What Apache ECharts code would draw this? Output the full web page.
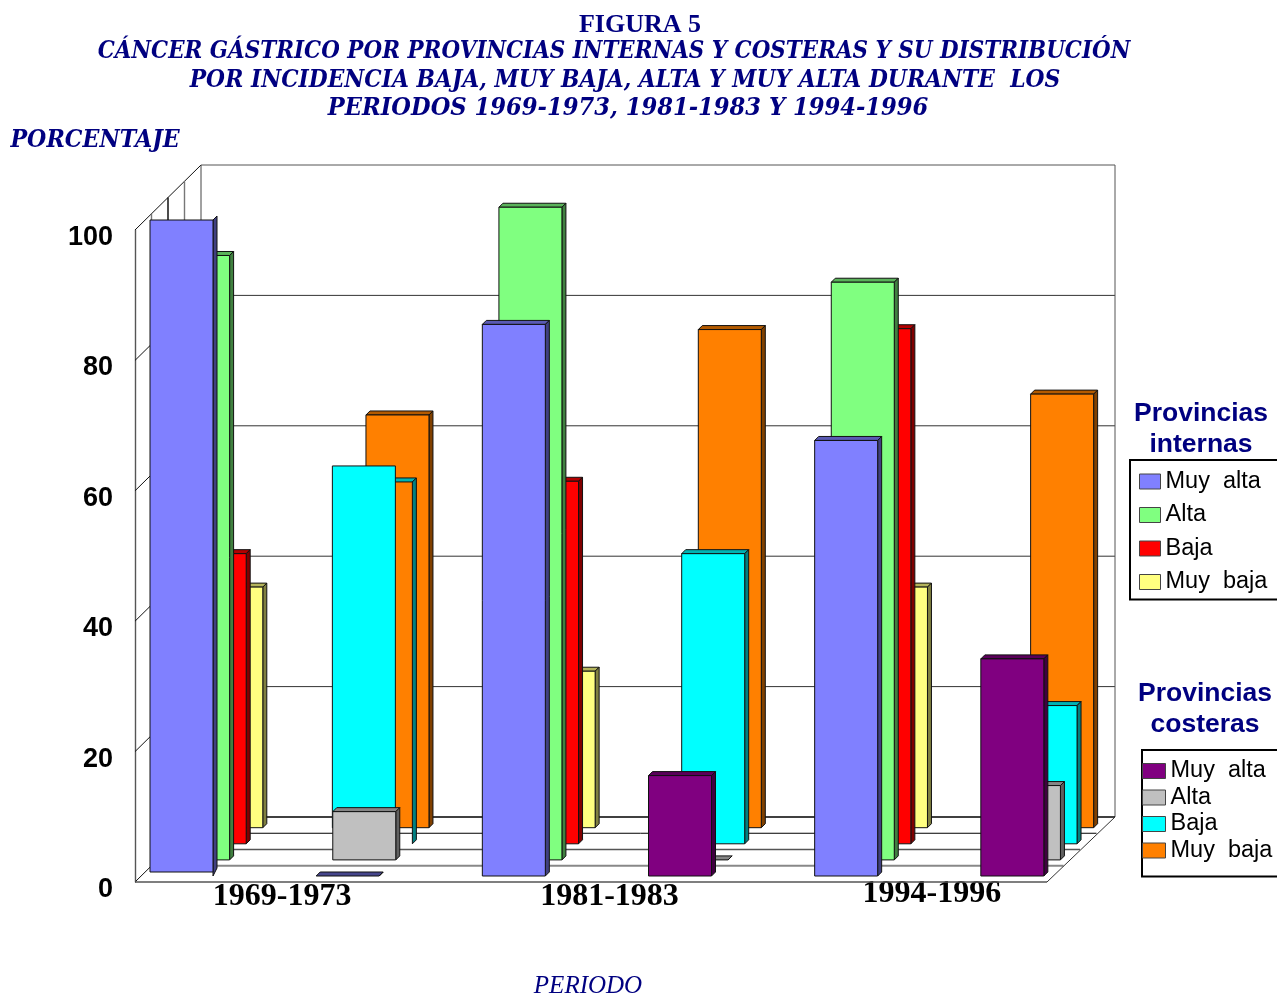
<!DOCTYPE html>
<html><head><meta charset="utf-8">
<style>html,body{margin:0;padding:0;background:#fff}#c{width:1277px;height:994px}</style>
<script src="https://cdn.jsdelivr.net/npm/echarts@6/dist/echarts.min.js"></script>
</head><body><div id="c"></div>
<script>
const periods = ['1969-1973','1981-1983','1994-1996'];
const yTicks = [0,20,40,60,80,100];
const levels = ['Muy  alta','Alta','Baja','Muy  baja'];
const internasMuyAlta = [100, 84.6, 66.8];
const internasAlta = [92.7, 100.1, 88.6];
const internasBaja = [44.5, 55.6, 79];
const internasMuyBaja = [36.9, 24, 36.9];
const costerasMuyAlta = [0, 15.4, 33.3];
const costerasAlta = [7.4, 0, 11.4];
const costerasBaja = [55.5, 44.5, 21.2];
const costerasMuyBaja = [63.3, 76.4, 66.5];

const NAVY='#000080';
const INT='Provincias internas|', COS='Provincias costeras|';
// [name, values, colour, depth row, side (0 internas, 1 costeras)] painted back to front
const seriesDefs=[
 [INT+levels[3],internasMuyBaja,'#FFFF80',3,0],
 [COS+levels[3],costerasMuyBaja,'#FF8000',3,1],
 [INT+levels[2],internasBaja,'#FF0000',2,0],
 [COS+levels[2],costerasBaja,'#00FFFF',2,1],
 [INT+levels[1],internasAlta,'#80FF80',1,0],
 [COS+levels[1],costerasAlta,'#C0C0C0',1,1],
 [INT+levels[0],internasMuyAlta,'#8080FF',0,0],
 [COS+levels[0],costerasMuyAlta,'#800080',0,1]
];
function shade(hex,k){
  const n=parseInt(hex.slice(1),16);
  const f=v=>Math.round(v*k);
  return 'rgb('+f(n>>16&255)+','+f(n>>8&255)+','+f(n&255)+')';
}
const BAR_W=63, DEPTH=4, ROW_DX=16.6, ROW_DY=16.1, INSET=15;
function poly(points,fill,stroke){
  return {type:'polygon',shape:{points},style:{fill,stroke:stroke||'#111',lineWidth:1}};
}
function barRender(def){
  const [name,vals,color,row,side]=def;
  return function(params,api){
    const cat=api.value(0), val=api.value(1);
    const base=api.coord([cat,0]);
    const h=api.size([0,val])[1];
    const band=api.size([1,0])[0];
    let x=base[0]-band/2+INSET+side*band/2+ROW_DX*row;
    let y=base[1]-6-ROW_DY*row;
    let faceDx=0, faceDy=0, sideExtra=0, fill=color, top=shade(color,0.7), sideCol=shade(color,0.5), showTop=true;
    // idiosyncrasies of the original figure
    if(name===INT+levels[0]&&cat===0){ y-=4; sideExtra=4; showTop=false; }
    if(name===COS+levels[2]&&cat===0){ faceDx=-17; faceDy=-16; }
    if(name===COS+levels[0]&&cat===0){ top=shade('#8080FF',0.55); }
    const ch=[];
    if(showTop) ch.push(poly([[x,y-h],[x+DEPTH,y-h-DEPTH],[x+BAR_W+DEPTH,y-h-DEPTH],[x+BAR_W,y-h]],top));
    ch.push(poly([[x+BAR_W,y-h],[x+BAR_W+DEPTH,y-h-DEPTH],[x+BAR_W+DEPTH,y-DEPTH],[x+BAR_W,y+sideExtra]],sideCol));
    if(h>0.5) ch.push(poly([[x+faceDx,y-h+faceDy],[x+BAR_W+faceDx,y-h+faceDy],[x+BAR_W+faceDx,y+faceDy],[x+faceDx,y+faceDy]],fill));
    return {type:'group',children:ch};
  };
}
function line(a,b,color,w){
  return {type:'line',shape:{x1:a[0],y1:a[1],x2:b[0],y2:b[1]},style:{stroke:color,lineWidth:w||1}};
}
function frameRender(params,api){
  const o=api.coord([0,0]); const left=o[0]-api.size([1,0])[0]/2, bottom=o[1];
  const dx=66, dy=65, floorW=912, ch=[];
  const py=v=>api.coord([0,v])[1];
  const yTop=py(100);
  // back wall and its gridlines, side-wall diagonals at every tick
  yTicks.forEach(t=>{
    if(t>0) ch.push(line([left+dx,py(t)-dy],[left+dx+floorW+2,py(t)-dy],t===100?'#555':'#333'));
    ch.push(line([left,py(t)],[left+dx,py(t)-dy],'#111'));
  });
  ch.push(line([left+dx,yTop-dy],[left+dx,bottom-dy],'#444'));
  ch.push(line([left+dx+floorW+2,yTop-dy],[left+dx+floorW+2,bottom-dy],'#555'));
  [1,2,3].forEach(i=>{
    const f=i/4;
    ch.push(line([left+dx*f,yTop-dy*f],[left+dx*f,bottom-dy*f],i===2?'#000':'#777',1.4));
  });
  // floor
  const cols=['#555','#888','#555','#000','#000'], wid=[1.3,2,1.3,1,1.6];
  [0,1,2,3,4].forEach(i=>{
    const f=i/4;
    ch.push(line([left+dx*f,bottom-dy*f],[left+dx*f+floorW+(i===4?2:0),bottom-dy*f],cols[i],wid[i]));
  });
  ch.push(line([left+floorW,bottom],[left+floorW+dx+2,bottom-dy],'#333'));
  return {type:'group',children:ch};
}
function label(text,x,y,font,fill,scaleX){
  return {type:'text',x,y,scaleX:scaleX||1,z:20,style:{text,font,fill,textAlign:'center',textVerticalAlign:'middle'}};
}
const titleFont='italic bold 23.5px "DejaVu Serif"';
const chart=echarts.init(document.getElementById('c'),null,{renderer:'canvas'});
chart.setOption({
  animation:false,
  backgroundColor:'#fff',
  grid:{left:135,top:230,width:997,height:652,containLabel:false},
  xAxis:{type:'category',data:[
      {value:periods[0],textStyle:{padding:[3,38,0,0]}},
      {value:periods[1],textStyle:{padding:[3,48,0,0]}},
      {value:periods[2],textStyle:{padding:[0,68,0,0]}}],
    axisLine:{show:false},axisTick:{show:false},
    axisLabel:{margin:-4,color:'#000',fontFamily:'Liberation Serif',fontWeight:'bold',fontSize:32,interval:0}},
  yAxis:{type:'value',min:0,max:100,interval:20,splitLine:{show:false},
    axisLine:{show:true,lineStyle:{color:'#555',width:1.4}},
    axisTick:{show:false},
    axisLabel:{margin:22,color:'#000',fontFamily:'Liberation Sans',fontWeight:'bold',fontSize:27,verticalAlign:'top',lineHeight:15}},
  legend:[
   {orient:'vertical',left:1130,top:460,padding:[9.5,12,5.5,9],itemGap:9.5,itemWidth:21,itemHeight:15,icon:'rect',
    borderColor:'#000',borderWidth:2,backgroundColor:'#fff',selectedMode:false,
    itemStyle:{borderColor:'#444',borderWidth:1},
    textStyle:{fontFamily:'Liberation Sans',fontSize:23.5,color:'#000'},
    formatter:n=>n.split('|')[1],
    data:levels.map(l=>INT+l)},
   {orient:'vertical',left:1142,top:750,padding:[9,12,14,0],itemGap:2.5,itemWidth:23,itemHeight:15,icon:'rect',
    borderColor:'#000',borderWidth:2,backgroundColor:'#fff',selectedMode:false,
    itemStyle:{borderColor:'#444',borderWidth:1},
    textStyle:{fontFamily:'Liberation Sans',fontSize:23.5,color:'#000'},
    formatter:n=>n.split('|')[1],
    data:levels.map(l=>COS+l)}
  ],
  graphic:[
   label('FIGURA 5',640,25.5,'bold 26px "Liberation Serif"',NAVY),
   label('CÁNCER GÁSTRICO POR PROVINCIAS INTERNAS Y COSTERAS Y SU DISTRIBUCIÓN',614,52,titleFont,NAVY,0.913),
   label('POR INCIDENCIA BAJA, MUY BAJA, ALTA Y MUY ALTA DURANTE  LOS',625,80.5,titleFont,NAVY,0.93),
   label('PERIODOS 1969-1973, 1981-1983 Y 1994-1996',628,109,titleFont,NAVY,0.963),
   label('PORCENTAJE',95,141,titleFont,NAVY,0.944),
   label('PERIODO',588,986,'italic 25px "Liberation Serif"',NAVY),
   label('Provincias',1201,414,'bold 26.5px "Liberation Sans"',NAVY),
   label('internas',1201,445,'bold 26.5px "Liberation Sans"',NAVY),
   label('Provincias',1205,694,'bold 26.5px "Liberation Sans"',NAVY),
   label('costeras',1205,725,'bold 26.5px "Liberation Sans"',NAVY)
  ],
  series:[
   {type:'custom',name:'marco',silent:true,clip:false,data:[[0,0]],renderItem:frameRender,z:1}
  ].concat(seriesDefs.map(d=>({
    type:'custom',name:d[0],clip:false,z:2,itemStyle:{color:d[2]},
    data:d[1].map((v,i)=>[i,v]),renderItem:barRender(d)
  })))
});
</script></body></html>
